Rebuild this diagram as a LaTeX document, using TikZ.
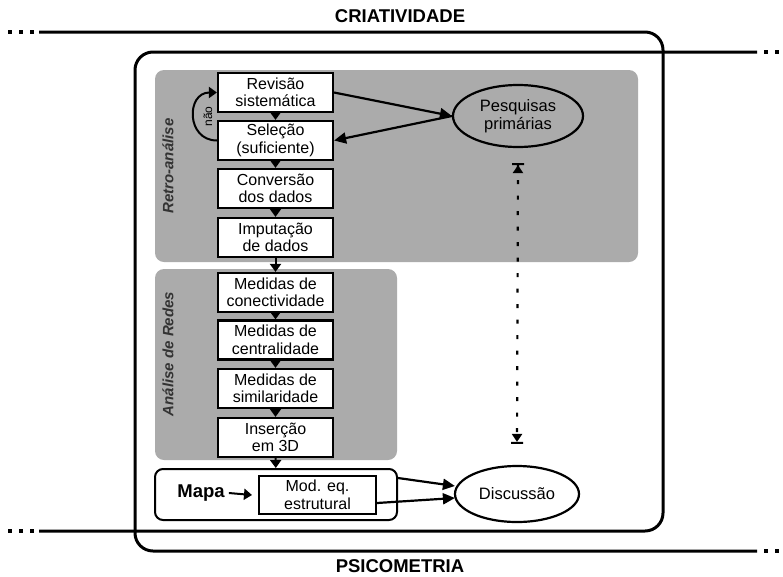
\documentclass[tikz,border=0pt]{standalone}
\usepackage{fontspec}
\setmainfont{Liberation Sans}
\usetikzlibrary{arrows.meta,shapes.geometric,calc}
\definecolor{panel}{HTML}{ABABAB}
\definecolor{lab}{HTML}{333333}
\begin{document}
\begin{tikzpicture}[x=1pt,y=-1pt,
  outer/.style={line width=3pt,rounded corners=18pt},
  dots/.style={line width=3.8pt,dash pattern=on 3.8pt off 7.2pt},
  bx/.style={draw,line width=2.2pt,fill=white,minimum width=115pt,minimum height=39pt,inner sep=0pt,align=center,font=\fontsize{16}{17.5}\selectfont},
  ell/.style={draw,ellipse,line width=2.2pt,inner sep=0pt,align=center,font=\fontsize{16.5}{18}\selectfont},
  arr/.style={line width=2pt,-{Triangle[width=11pt,length=8pt]}},
  bigarr/.style={line width=2.2pt,-{Triangle[width=11pt,length=12pt]}},
  sidelab/.style={rotate=90,text=lab,font=\bfseries\itshape\fontsize{15}{17}\selectfont},
  title/.style={font=\bfseries\fontsize{18.5}{20}\selectfont},
  dotarr/.style={line width=2.2pt,dash pattern=on 4pt off 11.5pt,
    {Bar[width=12pt,line width=2pt]Triangle[width=10pt,length=8pt]}-{Triangle[width=10pt,length=8pt]Bar[width=12pt,line width=2pt]}}
]
\useasboundingbox (0,0) rectangle (783,576);

% outer frames
\draw[outer] (39,32) -- (663,32) -- (663,531) -- (39,531);
\draw[dots] (8,32) -- (34,32);
\draw[dots] (8,531) -- (34,531);
\draw[outer] (757,52) -- (135,52) -- (135,551) -- (757,551);
\draw[dots] (764,52) -- (779,52);
\draw[dots] (764,551) -- (779,551);

\node[title] (crt) at (400,16) {CRIATIVIDADE};
\node[title] (psi) at (400,566) {PSICOMETRIA};

% panels
\fill[panel,rounded corners=9pt] (155,70) rectangle (638,262);
\fill[panel,rounded corners=9pt] (155,269) rectangle (397,460);

\node[sidelab] (lretro) at (168,166) {Retro-análise};
\node[sidelab] (lredes) at (168,354) {Análise de Redes};

% boxes
\node[bx] (rev) at (275.5,92.5) {Revisão\\sistemática};
\node[bx] (sel) at (275.5,140.5) {Seleção\\(suficiente)};
\node[bx] (conv) at (275.5,188.5) {Conversão\\dos dados};
\node[bx] (imp) at (275.5,237.5) {Imputação\\de dados};
\node[bx] (con) at (275.5,292.5) {Medidas de\\conectividade};
\node[bx] (cen) at (275.5,340) {Medidas de\\centralidade};
\node[bx] (sim) at (275.5,388.5) {Medidas de\\similaridade};
\node[bx] (ins) at (275.5,437.5) {Inserção\\em 3D};

\node[draw,line width=2pt,rounded corners=8pt,fill=white,minimum width=242pt,minimum height=51pt,inner sep=0pt] (mapbox) at (276,494.5) {};
\node[draw,line width=2pt,fill=white,minimum width=117pt,minimum height=38pt,inner sep=0pt,align=center,font=\fontsize{16}{17.5}\selectfont] (mod) at (317.5,495) {Mod. eq.\\estrutural};
\node[font=\bfseries\fontsize{18.5}{20}\selectfont,inner sep=1pt] (mapa) at (201,493) {Mapa};

\node[ell,minimum width=130pt,minimum height=62pt] (pesq) at (518,116) {Pesquisas\\primárias};
\node[ell,minimum width=124pt,minimum height=56pt] (disc) at (517,494) {Discussão};

% vertical chain
\draw[arr] (rev) -- (sel);
\draw[arr] (sel) -- (conv);
\draw[arr] (conv) -- (imp);
\draw[arr] (imp) -- (con);
\draw[arr] (con) -- (cen);
\draw[arr] (cen) -- (sim);
\draw[arr] (sim) -- (ins);
\draw[arr] (ins) -- (mapbox);

% loop "nao"
\draw[arr] (sel.west) .. controls (186,140.5) and (186,92.5) .. (rev.west);
\node[rotate=90,font=\fontsize{12}{13}\selectfont,inner sep=0pt] (nao) at (208,116.5) {não};

% to/from Pesquisas
\draw[bigarr] (rev.east) -- (pesq.west);
\draw[bigarr] (pesq.west) -- (sel.east);

% Mapa
\draw[arr] ([xshift=3pt]mapa.east) -- ([xshift=-6pt]mod.west);

% to Discussao
\draw[bigarr] ([yshift=-10pt]mapbox.north east) -- ([xshift=1pt,yshift=8pt]disc.west);
\draw[bigarr] ([yshift=-8pt]mod.east) -- ([xshift=1pt,yshift=-4pt]disc.west);

% dotted double arrow
\draw[dotarr] ([yshift=-15pt]pesq.south) -- ([yshift=21pt]disc.north);
\end{tikzpicture}
\end{document}
